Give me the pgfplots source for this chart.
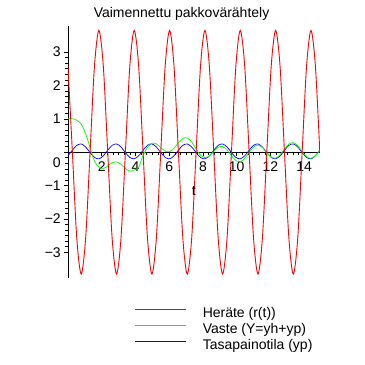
\documentclass[border=0pt]{standalone}
\usepackage{pgfplots}
\pgfplotsset{compat=1.18}
\usepackage{pgfplotstable}
\usepackage{fontspec}
\setmainfont{Liberation Sans}

\pgfplotstableread{
t red green blue
0.0000 2.58 1.001 -0.109
0.2618 0 1.006 0.059
0.5236 -2.58 0.956 0.206
0.7854 -3.65 0.84 0.248
1.0472 -2.58 0.56 0.158
1.3090 0 0.14 -0.009
1.5708 2.58 -0.26 -0.156
1.8326 3.65 -0.447 -0.198
2.0944 2.58 -0.486 -0.109
2.3562 0 -0.410 0.059
2.6180 -2.58 -0.316 0.206
2.8798 -3.65 -0.290 0.248
3.1416 -2.58 -0.364 0.158
3.4034 0 -0.488 -0.009
3.6652 2.58 -0.570 -0.156
3.9270 3.65 -0.531 -0.198
4.1888 2.58 -0.45 -0.109
4.4506 0 -0.093 0.059
4.7124 -2.58 0.146 0.206
4.9742 -3.65 0.270 0.248
5.2360 -2.58 0.251 0.158
5.4978 0 0.141 -0.009
5.7596 2.58 0.035 -0.156
6.0214 3.65 0.019 -0.198
6.2832 2.58 0.118 -0.109
6.5450 0 0.282 0.059
6.8068 -2.58 0.412 0.206
7.0686 -3.65 0.428 0.248
7.3304 -2.58 0.305 0.158
7.5922 0 0.101 -0.009
7.8540 2.58 -0.086 -0.156
8.1158 3.65 -0.166 -0.198
8.3776 2.58 -0.112 -0.109
8.6394 0 0.025 0.059
8.9012 -2.58 0.147 0.206
9.1630 -3.65 0.170 0.248
9.4248 -2.58 0.068 0.158
9.6866 0 -0.105 -0.009
9.9484 2.58 -0.251 -0.156
10.2102 3.65 -0.287 -0.198
10.4720 2.58 -0.187 -0.109
10.7338 0 -0.006 0.059
10.9956 -2.58 0.157 0.206
11.2574 -3.65 0.215 0.248
11.5192 -2.58 0.142 0.158
11.7810 0 -0.010 -0.009
12.0428 2.58 -0.144 -0.156
12.3046 3.65 -0.175 -0.198
12.5664 2.58 -0.077 -0.109
12.8282 0 0.096 0.059
13.0900 -2.58 0.246 0.206
13.3518 -3.65 0.288 0.248
13.6136 -2.58 0.194 0.158
13.8754 0 0.021 -0.009
14.1372 2.58 -0.134 -0.156
14.3990 3.65 -0.183 -0.198
14.6608 2.58 -0.102 -0.109
14.9226 0 0.060 0.059
}\datatable

\definecolor{mred}{RGB}{255,0,0}
\definecolor{mgreen}{RGB}{0,255,0}
\definecolor{mblue}{RGB}{0,0,255}

\begin{document}
\begin{tikzpicture}
\path[use as bounding box] (-68pt,-87pt) rectangle (297pt,278.2pt);
\begin{axis}[
  scale only axis, width=252pt, height=251.8pt,
  xmin=0, xmax=14.9226, ymin=-3.77, ymax=3.77,
  axis lines=middle, axis line style={-, line width=0.7pt, black},
  tick align=outside,
  xtick={2,4,...,14}, minor x tick num=5,
  ytick={-3,...,3}, yticklabels={−3,−2,−1,,1,2,3}, minor y tick num=5,
  extra y ticks={0}, extra y tick labels={0},
  extra y tick style={yticklabel style={yshift=-10pt}},
  major tick length=4pt, minor tick length=2.5pt,
  tick style={black, line width=0.6pt},
  font=\fontsize{14}{16}\selectfont,
  tick label style={font=\fontsize{14}{16}\selectfont},
  /pgf/number format/assume math mode=true,
  xticklabel style={inner sep=0pt, anchor=north, yshift=-5pt},
  yticklabel style={inner sep=0pt, anchor=east, xshift=-3pt},
  title={Vaimennettu pakkovärähtely},
  title style={at={(axis description cs:0.451,1)}, anchor=base, yshift=2.4pt, inner sep=0pt},
  xlabel={t},
  xlabel style={at={(axis description cs:0.5,0.330)}, anchor=base, inner sep=0pt},
  reverse legend,
  legend image code/.code={\draw[#1] (0pt,5pt) -- (51pt,5pt);},
  legend cell align=left,
  legend style={at={(axis description cs:0,0)}, anchor=north west, xshift=67pt, yshift=-29.8pt,
    draw=none, fill=none, inner sep=0pt, outer sep=0pt, row sep=3pt, column sep=16pt,
    nodes={inner sep=0pt, text height=10pt, text depth=3pt},
    font=\fontsize{14}{16}\selectfont},
]
\addplot[mblue, line width=0.7pt, smooth] table[x=t, y=blue] {\datatable};
\addlegendentry{Tasapainotila (yp)}
\addplot[mgreen, line width=0.7pt, smooth] table[x=t, y=green] {\datatable};
\addlegendentry{Vaste (Y=yh+yp)}
\addplot[mred, line width=0.9pt, smooth] table[x=t, y=red] {\datatable};
\addlegendentry{Heräte (r(t))}
\end{axis}
\end{tikzpicture}
\end{document}
